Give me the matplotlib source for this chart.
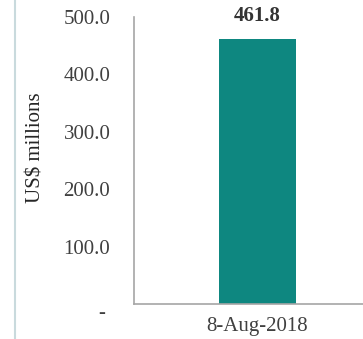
import matplotlib.pyplot as plt
from matplotlib.lines import Line2D

# data
dates = ["8-Aug-2018"]
values = [461.8]
yticks = [0, 100, 200, 300, 400, 500]

plt.rcParams['font.family'] = ['Liberation Serif', 'DejaVu Serif']

fig = plt.figure(figsize=(3.63, 3.39), dpi=100)
ax = fig.add_axes([0.369, 0.1032, 0.680, 0.847])

ax.bar(range(len(dates)), values, width=0.312, color="#0e8780")
ax.set_xlim(-0.5, 0.5)
ax.set_ylim(0, 500)

# value labels
for i, v in enumerate(values):
    ax.annotate(f"{v:.1f}", xy=(i, v), xytext=(0, 9), textcoords="offset points",
                ha="center", va="bottom", fontsize=15, fontweight="bold", color="#333333")

ax.set_xticks(range(len(dates)))
ax.set_xticklabels(dates, fontsize=15, color="#404040")
ax.set_yticks(yticks)
ax.set_yticklabels([f"{t:.1f}" if t else "" for t in yticks], fontsize=15, color="#404040")
ax.tick_params(axis="both", length=0)
ax.tick_params(axis="y", pad=17)
ax.tick_params(axis="x", pad=9)

# excel-style dash for zero
ax.annotate("-", xy=(0, 0), xycoords=("axes fraction", "data"), xytext=(-21, -7),
            textcoords="offset points", ha="right", va="center", fontsize=15, color="#404040")

ax.set_ylabel("US$ millions", fontsize=15, color="#262626")
ax.yaxis.set_label_coords(-0.36, 0.543)

for s in ["top", "right"]:
    ax.spines[s].set_visible(False)
for s in ["left", "bottom"]:
    ax.spines[s].set_color("#a6a6a6")
    ax.spines[s].set_linewidth(1.2)

# light border line on the left edge
fig.add_artist(Line2D([15 / 363, 15 / 363], [0, 1], transform=fig.transFigure,
                      color="#c9dadd", linewidth=1.5))

fig.savefig("out.png", dpi=100)
